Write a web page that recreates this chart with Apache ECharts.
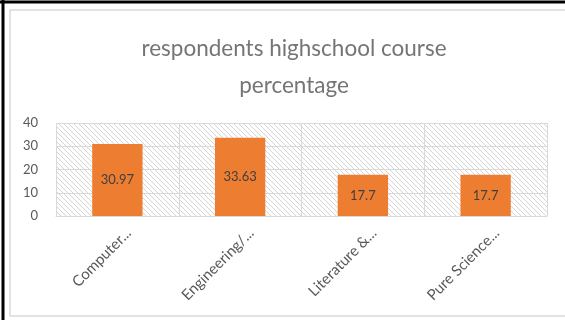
<!DOCTYPE html>
<html><head><meta charset="utf-8">
<script src="https://cdn.jsdelivr.net/npm/echarts@6/dist/echarts.min.js"></script>
<style>html,body{margin:0;padding:0;background:#fff}#c{width:565px;height:320px}</style>
</head><body><div id="c"></div>
<script>
var titleText = 'respondents highschool course\npercentage';
var categories = ['Computer...', 'Engineering/...', 'Literature &...', 'Pure Science...'];
var values = [30.97, 33.63, 17.7, 17.7];
var yTicks = [0, 10, 20, 30, 40];

var pc = document.createElement('canvas');
pc.width = 5; pc.height = 5;
var g = pc.getContext('2d');
g.fillStyle = '#ffffff'; g.fillRect(0,0,5,5);
g.strokeStyle = '#d4d4d4'; g.lineWidth = 1;
g.beginPath();
g.moveTo(-1,-1); g.lineTo(6,6);
g.moveTo(-1,4); g.lineTo(1,6);
g.moveTo(4,-1); g.lineTo(6,1);
g.stroke();

var chart = echarts.init(document.getElementById('c'), null, {renderer:'canvas'});
chart.setOption({
  animation:false,
  graphic:[
    {type:'rect', shape:{x:10,y:10,width:560,height:306}, style:{fill:'none', stroke:'#d9d9d9', lineWidth:1.5}, silent:true},
    {type:'line', shape:{x1:3,y1:0,x2:3,y2:320}, style:{stroke:'#000', lineWidth:3}, silent:true},
    {type:'line', shape:{x1:0,y1:2,x2:565,y2:2}, style:{stroke:'#000', lineWidth:3}, silent:true},
    {type:'text', x:294, y:30, silent:true, style:{text:titleText, textAlign:'center', textVerticalAlign:'top', fontFamily:'Lato', fontSize:22.5, lineHeight:37, fill:'#757575'}}
  ],
  grid:{left:56, right:18, top:123, bottom:104, show:true, borderWidth:0, backgroundColor:{image:pc, repeat:'repeat'}},
  xAxis:{type:'category', data:categories,
    axisLine:{show:true, lineStyle:{color:'#d9d9d9'}}, axisTick:{show:false},
    splitLine:{show:true, lineStyle:{color:'#d9d9d9'}},
    axisLabel:{rotate:45, color:'#595959', fontFamily:'Lato', fontSize:15, margin:26, interval:0, padding:[0,-16,0,0]}},
  yAxis:{type:'value', min:yTicks[0], max:yTicks[yTicks.length-1], interval:10,
    axisLine:{show:false}, axisTick:{show:false},
    splitLine:{lineStyle:{color:'#d9d9d9'}},
    axisLabel:{color:'#595959', fontFamily:'Lato', fontSize:13, margin:18}},
  series:[{type:'bar', data:values, barWidth:'41%',
    itemStyle:{color:'#ED7D31'},
    label:{show:true, position:'inside', color:'#404040', fontFamily:'Lato', fontSize:13}}]
});
</script></body></html>
